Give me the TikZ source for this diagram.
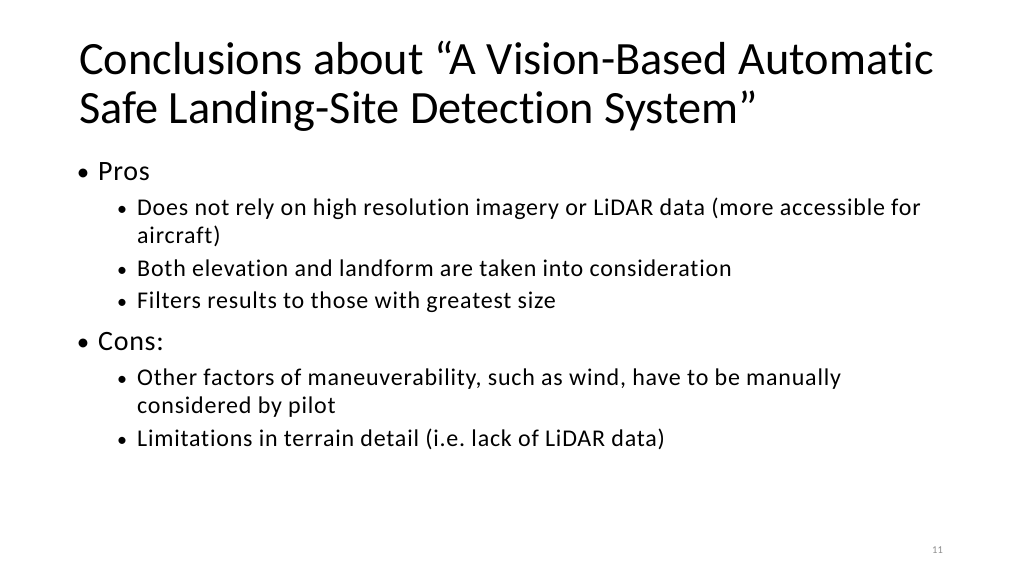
\documentclass[tikz,border=0pt]{standalone}
\usepackage{fontspec}
\setmainfont{Carlito}[Ligatures=NoCommon]
\newfontfamily\subfont{Carlito}[Ligatures=NoCommon,LetterSpace=3.3]
\newfontfamily\lonefont{Carlito}[Ligatures=NoCommon,LetterSpace=2.5]
\frenchspacing
\begin{document}
\begin{tikzpicture}[x=1pt,y=-1pt,
  titletxt/.style={anchor=base west,inner sep=0pt,font=\fontsize{46.3}{46.3}\selectfont},
  lvlone/.style={anchor=base west,inner sep=0pt,font=\lonefont\fontsize{28}{28}\selectfont},
  lvltwo/.style={anchor=base west,inner sep=0pt,font=\subfont\fontsize{24}{24}\selectfont},
  dotone/.style={anchor=base,inner sep=0pt,font=\fontsize{25}{25}\selectfont},
  dottwo/.style={anchor=base,inner sep=0pt,font=\fontsize{20}{20}\selectfont},
  pagenum/.style={anchor=base west,inner sep=0pt,text=black!45,font=\fontsize{10.5}{10.5}\selectfont}]
\useasboundingbox[fill=white] (0,0) rectangle (1024,576);
\node[titletxt] (t1) at (79,74) {Conclusions about “A Vision-Based Automatic};
\node[titletxt] (t2) at (79,123) {Safe Landing-Site Detection System”};
\node[dotone] (b1) at (83,180) {•};
\node[lvlone] (pros) at (98,180) {Pros};
\node[dottwo] (b2) at (122,215) {•};
\node[lvltwo] (s1) at (137,215) {Does not rely on high resolution imagery or LiDAR data (more accessible for};
\node[lvltwo] (s1b) at (137,243) {aircraft)};
\node[dottwo] (b3) at (122,276) {•};
\node[lvltwo] (s2) at (137,276) {Both elevation and landform are taken into consideration};
\node[dottwo] (b4) at (122,308) {•};
\node[lvltwo] (s3) at (137,308) {Filters results to those with greatest size};
\node[dotone] (b5) at (83,350) {•};
\node[lvlone] (cons) at (98,350) {Cons:};
\node[dottwo] (b6) at (122,385) {•};
\node[lvltwo] (s4) at (137,385) {Other factors of maneuverability, such as wind, have to be manually};
\node[lvltwo] (s4b) at (137,413) {considered by pilot};
\node[dottwo] (b7) at (122,446) {•};
\node[lvltwo] (s5) at (137,446) {Limitations in terrain detail (i.e. lack of LiDAR data)};
\node[pagenum] (pn) at (932,553) {11};
\end{tikzpicture}
\end{document}
